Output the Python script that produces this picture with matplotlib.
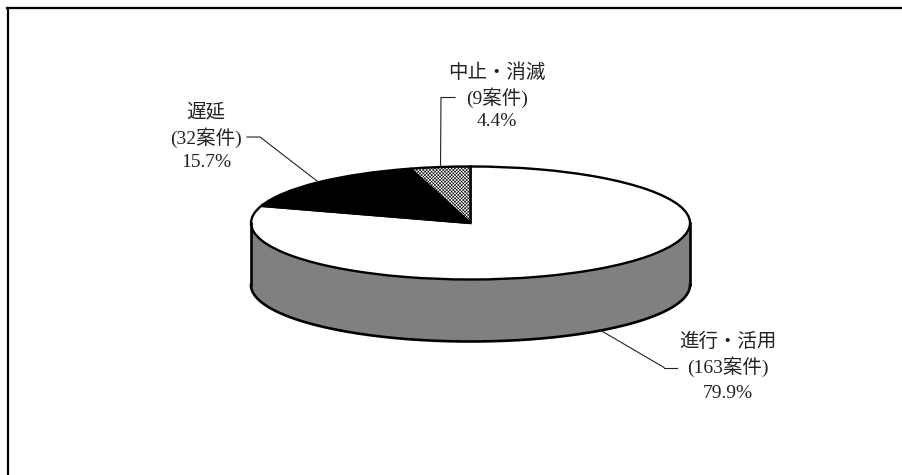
import matplotlib
matplotlib.use('Agg')
from matplotlib import pyplot as plt
from matplotlib.patches import Rectangle
import numpy as np

# clockwise from 12 o'clock
names    = ['進行・活用', '遅延', '中止・消滅']
cases    = [163, 32, 9]
percents = [79.9, 15.7, 4.4]
colors   = ['white', 'black', 'white']

W, H = 903, 475
CX, CY = 470.5, 223.0   # pie centre, pixels
RX, RY = 219.5, 56.5    # pie radii, pixels
DEPTH  = 62.0 / RY      # wall height, in data units

plt.rcParams['font.family'] = ['Liberation Serif', 'Noto Sans CJK JP']
plt.rcParams['hatch.linewidth'] = 0.4

def px(x, y):
    """pixel position in the reference -> data coords"""
    return (x - CX) / RX, (CY - y) / RY

fig = plt.figure(figsize=(W / 100, H / 100), dpi=100)
ax = fig.add_axes([0, 0, 1, 1])

# wall: the same pie pushed down, and a box up to the top face
ax.pie(percents, colors=['#808080'] * 3, center=(0, -DEPTH), startangle=90,
       counterclock=False, wedgeprops=dict(edgecolor='#808080', linewidth=0))
ax.add_patch(Rectangle((-1, -DEPTH), 2, DEPTH, facecolor='#808080', linewidth=0))
t = np.linspace(np.pi, 2 * np.pi, 200)
ax.plot(np.cos(t), np.sin(t) - DEPTH, color='black', lw=1.9)
ax.plot([-1, -1], [0, -DEPTH], color='black', lw=1.9)
ax.plot([1, 1], [0, -DEPTH], color='black', lw=1.9)

wedges, _ = ax.pie(percents, colors=colors, startangle=90, counterclock=False,
                   wedgeprops=dict(edgecolor='black', linewidth=1.7))
wedges[2].set_hatch('xxxxxxxxxx')
wedges[2].set_edgecolor('black')

ax.set_aspect('auto')
ax.set_xlim(*[(0 - CX) / RX, (W - CX) / RX])
ax.set_ylim(*[(CY - H) / RY, CY / RY])
ax.set_axis_off()

# leaders
for pts in ([(664, 367.5), (677, 367.5)], [(600, 330), (664, 367.5)],
            [(247, 137), (260, 137), (317, 181)],
            [(455, 97.5), (441, 97.5), (440.5, 167)]):
    xy = np.array([px(*p) for p in pts])
    ax.plot(xy[:, 0], xy[:, 1], color='#222222', lw=0.8, zorder=1.5 if pts[0][0] == 455 else 3)

# labels: centre x and the y of each row
label_pos = [(728, (342, 367, 393)), (206, (112, 138, 162)), (497, (73, 98, 122))]
for i, (lx, rows) in enumerate(label_pos):
    lines = [names[i], '(%d案件)' % cases[i], '%.1f%%' % percents[i]]
    for s, ly in zip(lines, rows):
        x, y = px(lx, ly)
        ax.text(x, y, s, ha='center', va='center', fontsize=14, color='#222222')

# frame is only visible on the top and the left
fig.add_artist(plt.Line2D([7.5 / W, 7.5 / W], [0, 1 - 8 / H], color='black', lw=1.6))
fig.add_artist(plt.Line2D([7 / W, 1], [1 - 8 / H, 1 - 8 / H], color='black', lw=1.6))

fig.savefig('out.png', dpi=100)
